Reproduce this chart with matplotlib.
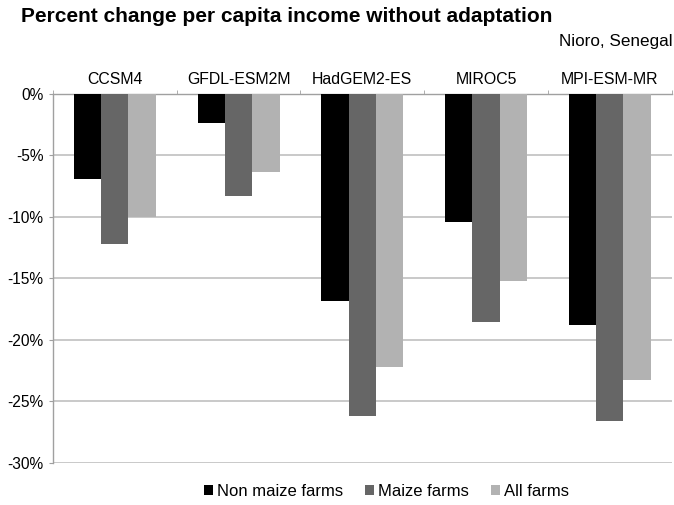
import numpy as np
import matplotlib
matplotlib.use('Agg')
import matplotlib.pyplot as plt
from matplotlib.ticker import FixedLocator

plt.rcParams['font.family'] = ['Liberation Sans', 'DejaVu Sans']

models = ['CCSM4', 'GFDL-ESM2M', 'HadGEM2-ES', 'MIROC5', 'MPI-ESM-MR']
series_names = ['Non maize farms', 'Maize farms', 'All farms']
non_maize = [-6.9, -2.4, -16.9, -10.4, -18.8]
maize = [-12.2, -8.3, -26.2, -18.6, -26.6]
all_farms = [-10.0, -6.4, -22.2, -15.2, -23.3]
colors = ['#000000', '#666666', '#b2b2b2']

fig = plt.figure(figsize=(6.74, 5.05), dpi=100)
ax = fig.add_axes([0.0786, 0.0841, 0.9177, 0.7304])

x = np.arange(len(models))
w = 0.221
for i, (vals, name, c) in enumerate(zip([non_maize, maize, all_farms], series_names, colors)):
    ax.bar(x + (i - 1) * w, vals, width=w, color=c, label=name, zorder=3)

ax.set_xlim(-0.5, len(models) - 0.5)
ax.set_ylim(-30, 0)
ax.set_yticks(np.arange(-30, 1, 5))
ax.set_yticklabels([f'{v}%' for v in range(-30, 1, 5)], fontsize=11.2)
ax.yaxis.grid(True, color='#c0c0c0', linewidth=1.2, zorder=0)
ax.set_axisbelow(True)

ax.xaxis.tick_top()
ax.set_xticks(x)
ax.set_xticklabels(models, fontsize=11.4)
ax.xaxis.set_minor_locator(FixedLocator(np.arange(-0.5, len(models), 1.0)))
ax.tick_params(axis='x', which='major', length=0, pad=5)
ax.tick_params(axis='x', which='minor', length=3, color='#a0a0a0', direction='out', top=True, bottom=False)
ax.tick_params(axis='y', length=3, color='#a0a0a0', pad=4)

for s in ['right', 'bottom']:
    ax.spines[s].set_visible(False)
for s in ['left', 'top']:
    ax.spines[s].set_color('#a0a0a0')
    ax.spines[s].set_linewidth(1.0)

fig.text(0.031, 0.968, 'Percent change per capita income without adaptation',
         fontsize=15, fontweight='bold', va='center', ha='left')
fig.text(0.998, 0.917, 'Nioro, Senegal', fontsize=12.3, va='center', ha='right')

fig.legend(loc='center', bbox_to_anchor=(0.573, 0.026), ncol=3, frameon=False,
           fontsize=12, handlelength=0.55, handleheight=0.55, handletextpad=0.25,
           columnspacing=1.3)

fig.savefig('out.png', dpi=100)
